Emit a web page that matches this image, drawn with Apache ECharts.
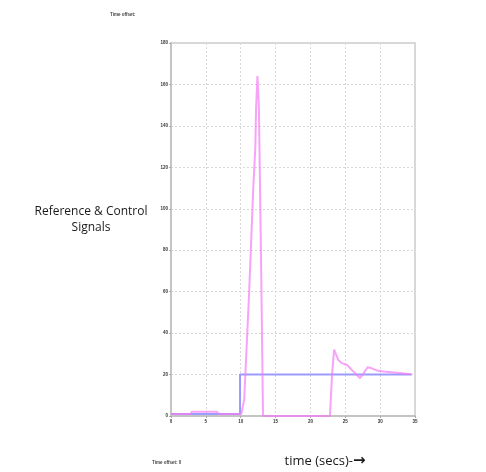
<!DOCTYPE html>
<html>
<head>
<meta charset="utf-8">
<script src="https://cdn.jsdelivr.net/npm/echarts@6/dist/echarts.min.js"></script>
<style>
  html, body { margin: 0; padding: 0; background: #fff; }
  #chart { width: 486px; height: 472px; }
</style>
</head>
<body>
<div id="chart"></div>
<script>
// Reference signal: [time (s), value]
const referenceSignal = [
  [0, 1], [9.9, 1], [9.9, 20], [34.5, 20]
];

// Control signal: [time (s), value]
const controlSignal = [
  [0, 1], [2.8, 1], [3.0, 2], [6.6, 2], [6.9, 1], [10.1, 1],
  [10.5, 8], [11.2, 59], [11.8, 110], [12.1, 130], [12.2, 148], [12.4, 164],
  [12.6, 150], [12.9, 80], [13.2, 0],
  [22.8, 0], [23.1, 20], [23.4, 32], [24.0, 27], [24.5, 25.5], [25.3, 24.5],
  [26.0, 22], [26.6, 20], [27.1, 18.3], [27.6, 20.5], [28.2, 23.5], [28.8, 23],
  [29.5, 22], [30.5, 21.5], [32.0, 21], [33.5, 20.5], [34.5, 20.2]
];

const xTicks = { min: 0, max: 35, step: 5 };
const yTicks = { min: 0, max: 180, step: 20 };

const chart = echarts.init(document.getElementById('chart'), null, { renderer: 'canvas' });

const tickLabel = { fontSize: 4.5, fontWeight: 'bold', color: '#333', fontFamily: 'Liberation Sans', margin: 3 };

chart.setOption({
  animation: false,
  backgroundColor: '#ffffff',
  grid: { left: 171, top: 43, width: 244, height: 373, show: true, borderColor: '#cccccc', borderWidth: 1.5 },
  xAxis: {
    type: 'value', min: xTicks.min, max: xTicks.max, interval: xTicks.step,
    axisLine: { show: true, lineStyle: { color: '#c4c4c4', width: 2 } },
    axisTick: { show: true, length: 2, lineStyle: { color: '#aaa' } },
    axisLabel: tickLabel,
    splitLine: { show: true, lineStyle: { color: '#d8d8d8', type: [2, 2], width: 1 } }
  },
  yAxis: {
    type: 'value', min: yTicks.min, max: yTicks.max, interval: yTicks.step,
    axisLine: { show: true, lineStyle: { color: '#c4c4c4', width: 2 } },
    axisTick: { show: true, length: 2, lineStyle: { color: '#aaa' } },
    axisLabel: tickLabel,
    splitLine: { show: true, lineStyle: { color: '#d8d8d8', type: [2, 2], width: 1 } }
  },
  series: [
    {
      name: 'Reference', type: 'line', data: referenceSignal, showSymbol: false,
      lineStyle: { color: '#8c8cff', width: 2, opacity: 0.85 }, z: 3
    },
    {
      name: 'Control', type: 'line', data: controlSignal, showSymbol: false,
      lineStyle: { color: '#f47cf4', width: 2, opacity: 0.7 }, z: 4
    }
  ],
  graphic: [
    { type: 'text', left: 110, top: 12, style: { text: 'Time offset:', fontSize: 4.5, fontWeight: 'bold', fill: '#444', fontFamily: 'Liberation Sans' } },
    { type: 'text', left: 152, top: 460, style: { text: 'Time offset: 0', fontSize: 4.5, fontWeight: 'bold', fill: '#444', fontFamily: 'Liberation Sans' } },
    { type: 'text', x: 91, y: 220, style: { text: 'Reference & Control\nSignals', fontSize: 12, lineHeight: 16, fill: '#1a1a1a', align: 'center', verticalAlign: 'middle', fontFamily: 'Open Sans' } },
    {
      type: 'text', x: 325, y: 461,
      style: {
        text: '{t|time (secs)-}{a|\u2192}',
        align: 'center', verticalAlign: 'middle',
        rich: {
          t: { fontSize: 13, fill: '#1a1a1a', fontFamily: 'Open Sans' },
          a: { fontSize: 15, fontWeight: 'bold', fill: '#1a1a1a', fontFamily: 'DejaVu Sans' }
        }
      }
    }
  ]
});
</script>
</body>
</html>
